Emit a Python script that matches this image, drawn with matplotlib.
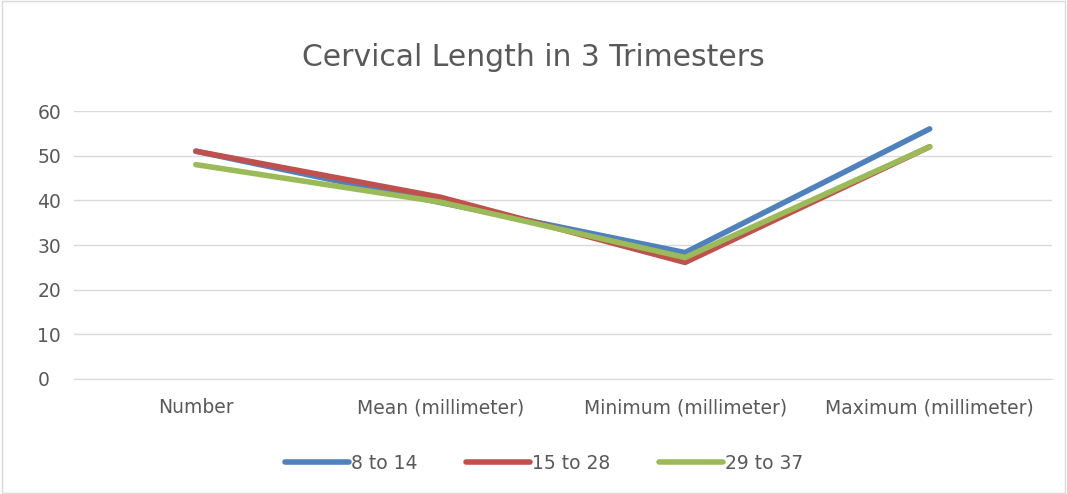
import matplotlib.pyplot as plt

categories = ["Number", "Mean (millimeter)", "Minimum (millimeter)", "Maximum (millimeter)"]
s_8_14 = [51, 39.5, 28.3, 56]
s_15_28 = [51, 40.7, 26.1, 52]
s_29_37 = [48, 39.6, 27.2, 52]
series_names = ["8 to 14", "15 to 28", "29 to 37"]
colors = ["#4f81bd", "#c0504d", "#9bbb59"]

fig = plt.figure(figsize=(10.67, 4.94), dpi=100)
ax = fig.add_axes([73.5 / 1067, 1 - 379 / 494, (1052 - 73.5) / 1067, (379 - 111) / 494])

x = range(len(categories))
for vals, name, c in zip([s_8_14, s_15_28, s_29_37], series_names, colors):
    ax.plot(x, vals, color=c, lw=4, solid_capstyle="round", label=name)

ax.set_xlim(-0.5, 3.5)
ax.set_ylim(0, 60)
ax.set_yticks(range(0, 61, 10))
ax.set_xticks(list(x))
ax.set_xticklabels(categories)
ax.grid(axis="y", color="#d9d9d9", lw=1)
ax.set_axisbelow(True)
for s in ["top", "right", "left"]:
    ax.spines[s].set_visible(False)
ax.spines["bottom"].set_color("#d9d9d9")
ax.tick_params(length=0, labelsize=13.5, colors="#595959")
ax.tick_params(axis="y", pad=26)
ax.tick_params(axis="x", pad=14)
for lbl in ax.get_yticklabels():
    lbl.set_horizontalalignment("left")

fig.text(0.5, 1 - 58 / 494, "Cervical Length in 3 Trimesters", ha="center", va="center",
         fontsize=21.5, color="#595959")
fig.legend(loc="center", bbox_to_anchor=(0.51, 1 - 463 / 494), ncol=3, frameon=False,
           fontsize=13.5, labelcolor="#595959", handlelength=3.4, handletextpad=0.1,
           columnspacing=2.6)

border = plt.Rectangle((0.002, 0.002), 0.996, 0.996, transform=fig.transFigure,
                       fill=False, edgecolor="#d9d9d9", lw=1)
fig.patches.append(border)

fig.savefig("out.png", dpi=100)
